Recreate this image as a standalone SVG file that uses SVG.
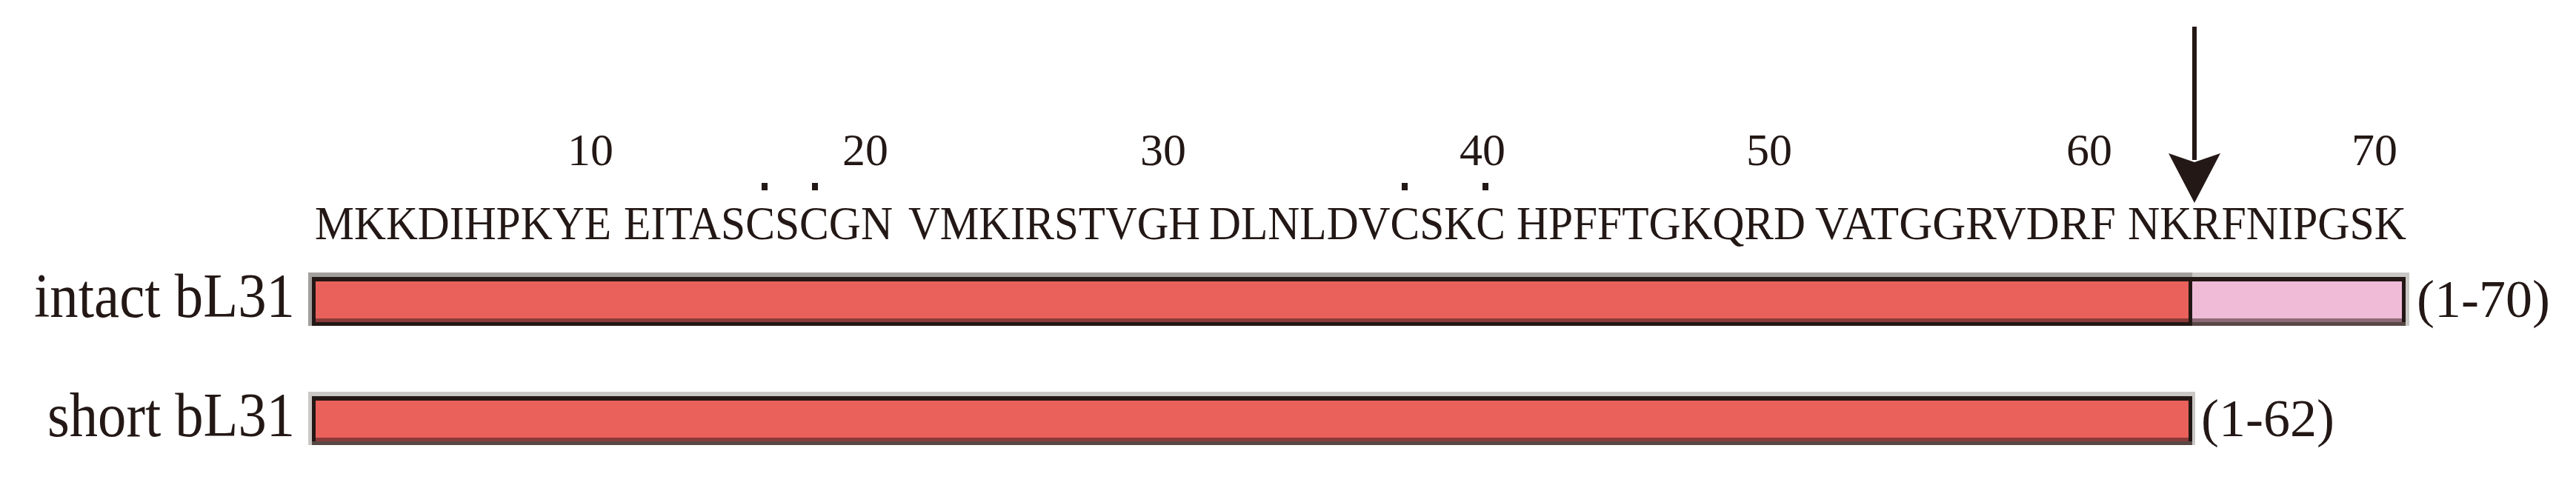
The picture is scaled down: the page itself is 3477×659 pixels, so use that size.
<svg xmlns="http://www.w3.org/2000/svg" width="3477" height="659" viewBox="0 0 3477 659">
<style>
text{font-family:"Liberation Serif","Times New Roman",serif;fill:#231815}
.seq{font-size:63px}
.num{font-size:62px;text-anchor:middle}
.lbl{font-size:84px;text-anchor:end}
.rng{font-size:72px}
.blk{fill:#231815}
.red{fill:#EA615B}
.redd{fill:#8A3B39}
.pink{fill:#EFBBD6}
.pinkd{fill:#8C6A76}
.gr{fill:#A29F9D}
.grl{fill:#CAC8C6}
.dot{fill:#231815}
</style>
<rect width="3477" height="659" fill="#ffffff"/>
<g id="position-numbers">
<text class="num" x="797" y="223">10</text>
<text class="num" x="1168" y="223">20</text>
<text class="num" x="1570" y="223">30</text>
<text class="num" x="2001" y="223">40</text>
<text class="num" x="2388" y="223">50</text>
<text class="num" x="2820" y="223">60</text>
<text class="num" x="3205" y="223">70</text>
</g>
<g id="cys-marks">
<rect class="dot" x="1028" y="247" width="8" height="10"/>
<rect class="dot" x="1096" y="247" width="8" height="10"/>
<rect class="dot" x="1892" y="247" width="8" height="10"/>
<rect class="dot" x="2001" y="247" width="8" height="10"/>
</g>
<g id="sequence">
<text class="seq" x="425" y="323" textLength="400" lengthAdjust="spacingAndGlyphs">MKKDIHPKYE</text>
<text class="seq" x="842" y="323" textLength="363" lengthAdjust="spacingAndGlyphs">EITASCSCGN</text>
<text class="seq" x="1226" y="323" textLength="394" lengthAdjust="spacingAndGlyphs">VMKIRSTVGH</text>
<text class="seq" x="1632" y="323" textLength="400" lengthAdjust="spacingAndGlyphs">DLNLDVCSKC</text>
<text class="seq" x="2047" y="323" textLength="390" lengthAdjust="spacingAndGlyphs">HPFFTGKQRD</text>
<text class="seq" x="2450" y="323" textLength="406" lengthAdjust="spacingAndGlyphs">VATGGRVDRF</text>
<text class="seq" x="2872" y="323" textLength="376" lengthAdjust="spacingAndGlyphs">NKRFNIPGSK</text>
</g>
<g id="intact-bL31">
<text class="lbl" x="398" y="428" textLength="352" lengthAdjust="spacingAndGlyphs">intact bL31</text>
<rect class="gr" x="416" y="368" width="2543" height="6"/>
<rect class="grl" x="2959" y="368" width="293" height="6"/>
<rect class="gr" x="416" y="368" width="5" height="72"/>
<rect class="grl" x="3247" y="368" width="5" height="72"/>
<rect class="blk" x="421" y="374" width="2826" height="66"/>
<rect class="red" x="426" y="380" width="2528" height="50"/>
<rect class="redd" x="426" y="430" width="2528" height="5"/>
<rect class="pink" x="2959" y="380" width="283" height="50"/>
<rect class="pinkd" x="2959" y="430" width="283" height="5"/>
<rect fill="#574846" x="2959" y="435" width="288" height="5"/>
<text class="rng" x="3262" y="428">(1-70)</text>
</g>
<g id="short-bL31">
<text class="lbl" x="398" y="589" textLength="334" lengthAdjust="spacingAndGlyphs">short bL31</text>
<rect class="grl" x="416" y="529" width="2547" height="6"/>
<rect class="grl" x="416" y="529" width="5" height="72"/>
<rect class="grl" x="2959" y="529" width="4" height="72"/>
<rect class="blk" x="421" y="535" width="2538" height="66"/>
<rect class="red" x="426" y="541" width="2528" height="50"/>
<rect class="redd" x="426" y="591" width="2528" height="5"/>
<rect fill="#574846" x="421" y="596" width="2538" height="5"/>
<text class="rng" x="2971" y="589">(1-62)</text>
</g>
<g id="connectors">
<line x1="2962" y1="36" x2="2962" y2="216" stroke="#231815" stroke-width="6"/>
<polygon points="2927,207 2962,219 2997,207 2962,274" fill="#231815"/>
</g>
</svg>
